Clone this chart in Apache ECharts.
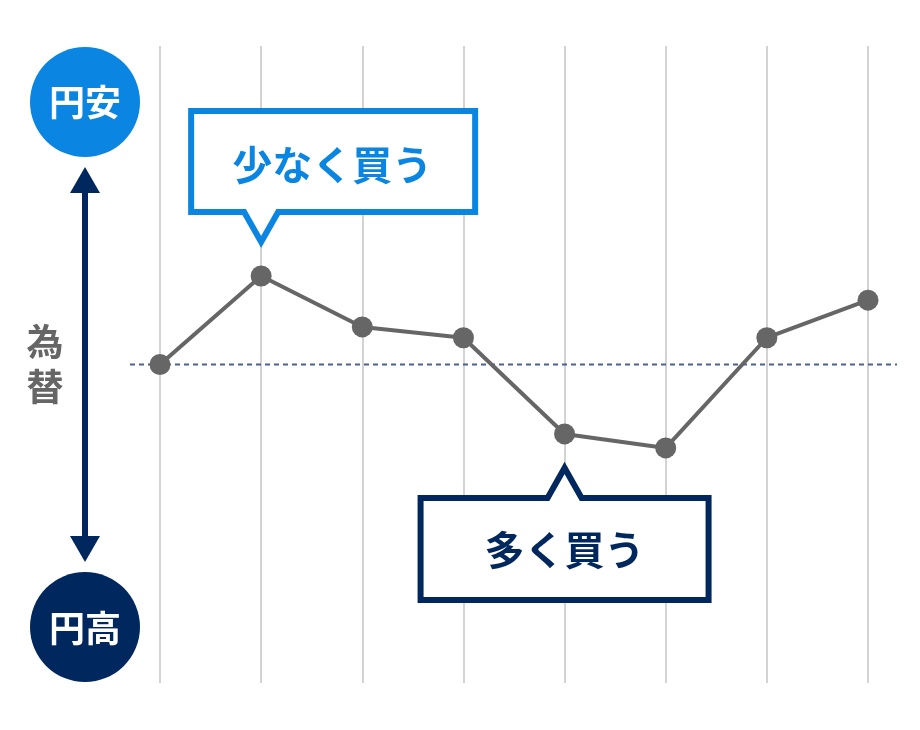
<!DOCTYPE html>
<html>
<head>
<meta charset="utf-8">
<script src="https://cdn.jsdelivr.net/npm/echarts@6/dist/echarts.min.js"></script>
<style>
html,body{margin:0;padding:0;background:#fff;}
#chart{width:920px;height:730px;}
</style>
</head>
<body>
<div id="chart"></div>
<script>
// Data
var periods = ['1', '2', '3', '4', '5', '6', '7', '8'];
var rateValues = [50, 63.9, 55.9, 54.2, 39.1, 36.9, 54.2, 60.1];
var baselineValue = [50, 50];
var labelTop = '円安';
var labelBottom = '円高';
var axisTitle = '為替';
var calloutFew = '少なく買う';
var calloutMany = '多く買う';
var fewIndex = 1;
var manyIndex = 4;

var BLUE = '#0A85E2';
var NAVY = '#00285E';
var GRAY = '#666666';
var FONT = '"Noto Sans CJK JP", "Noto Sans", sans-serif';

var chart = echarts.init(document.getElementById('chart'));
var option = {
  animation: false,
  backgroundColor: '#ffffff',
  grid: [
    {left: 160, right: 52, top: 46, bottom: 47},
    {left: 130, right: 23, top: 46, bottom: 47}
  ],
  xAxis: [
    {
      type: 'category', data: periods, boundaryGap: false, gridIndex: 0,
      axisLine: {show: false}, axisTick: {show: false}, axisLabel: {show: false},
      splitLine: {show: true, lineStyle: {color: '#d3d3d3', width: 2}}
    },
    {
      type: 'value', min: 0, max: 1, gridIndex: 1, show: false
    }
  ],
  yAxis: [
    {type: 'value', min: 0, max: 100, gridIndex: 0, show: false, splitLine: {show: false}},
    {type: 'value', min: 0, max: 100, gridIndex: 1, show: false, splitLine: {show: false}}
  ],
  series: [
    {
      type: 'line', xAxisIndex: 1, yAxisIndex: 1, z: 1,
      data: [[0, baselineValue[0]], [1, baselineValue[1]]],
      symbol: 'none',
      lineStyle: {color: '#4B6290', width: 2, type: [5, 4]},
      silent: true
    },
    {
      type: 'line', xAxisIndex: 0, yAxisIndex: 0, z: 3,
      data: rateValues,
      symbol: 'circle', symbolSize: 21,
      itemStyle: {color: GRAY},
      lineStyle: {color: GRAY, width: 4}
    }
  ]
};
chart.setOption(option);

var pFew = chart.convertToPixel({xAxisIndex: 0, yAxisIndex: 0}, [fewIndex, rateValues[fewIndex]]);
var pMany = chart.convertToPixel({xAxisIndex: 0, yAxisIndex: 0}, [manyIndex, rateValues[manyIndex]]);

function downCallout(p) {
  var x = p[0], y = p[1];
  var tip = y - 34, base = y - 64, top = y - 165, l = x - 70, r = x + 214;
  return [[l, top], [r, top], [r, base], [x + 17, base], [x, tip], [x - 17, base], [l, base]];
}
function upCallout(p) {
  var x = p[0], y = p[1];
  var tip = y + 34, base = y + 64, bot = y + 166, l = x - 144, r = x + 144;
  return [[l, base], [x - 17, base], [x, tip], [x + 17, base], [r, base], [r, bot], [l, bot]];
}

var fewPts = downCallout(pFew);
var manyPts = upCallout(pMany);

chart.setOption({
  graphic: [
    // arrow
    {type: 'line', shape: {x1: 85, y1: 190, x2: 85, y2: 539}, style: {stroke: NAVY, lineWidth: 6}},
    {type: 'polygon', shape: {points: [[85, 167], [100, 193], [70, 193]]}, style: {fill: NAVY}},
    {type: 'polygon', shape: {points: [[85, 562], [100, 536], [70, 536]]}, style: {fill: NAVY}},
    // circles
    {type: 'circle', shape: {cx: 85, cy: 102, r: 55}, style: {fill: BLUE}},
    {type: 'text', x: 85, y: 102, style: {text: labelTop, fill: '#fff', font: 'bold 36px ' + FONT, align: 'center', verticalAlign: 'middle'}},
    {type: 'circle', shape: {cx: 85, cy: 627, r: 55}, style: {fill: NAVY}},
    {type: 'text', x: 85, y: 628, style: {text: labelBottom, fill: '#fff', font: 'bold 36px ' + FONT, align: 'center', verticalAlign: 'middle'}},
    // axis title
    {type: 'text', x: 45, y: 342, style: {text: axisTitle.charAt(0), fill: GRAY, font: 'bold 37px ' + FONT, align: 'center', verticalAlign: 'middle'}},
    {type: 'text', x: 45, y: 387, style: {text: axisTitle.charAt(1), fill: GRAY, font: 'bold 37px ' + FONT, align: 'center', verticalAlign: 'middle'}},
    // callouts
    {type: 'polygon', z: 10, shape: {points: fewPts}, style: {fill: '#fff', stroke: BLUE, lineWidth: 6, lineJoin: 'miter'}},
    {type: 'text', z: 11, x: (fewPts[0][0] + fewPts[1][0]) / 2 - 1, y: (fewPts[0][1] + fewPts[2][1]) / 2 + 3,
      style: {text: calloutFew, fill: BLUE, font: 'bold 40px ' + FONT, align: 'center', verticalAlign: 'middle'}},
    {type: 'polygon', z: 10, shape: {points: manyPts}, style: {fill: '#fff', stroke: NAVY, lineWidth: 6, lineJoin: 'miter'}},
    {type: 'text', z: 11, x: pMany[0], y: (manyPts[0][1] + manyPts[5][1]) / 2 + 1,
      style: {text: calloutMany, fill: NAVY, font: 'bold 40px ' + FONT, align: 'center', verticalAlign: 'middle'}}
  ]
});
</script>
</body>
</html>
